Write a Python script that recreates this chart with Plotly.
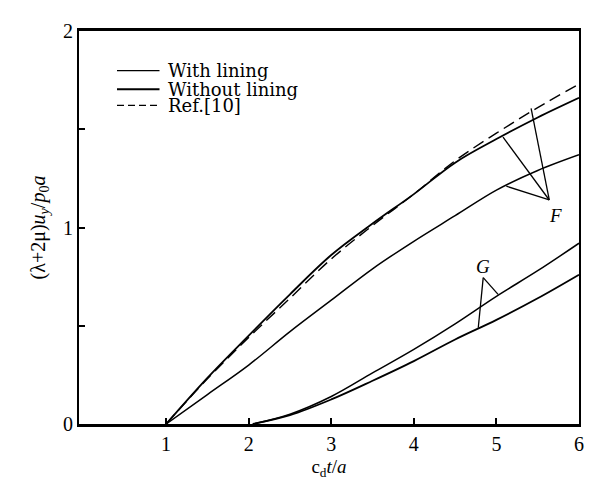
import plotly.graph_objects as go

# ---- data ----
x_f = [1.0, 1.5, 2.0, 2.5, 3.0, 3.5, 4.0, 4.5, 5.0, 5.5, 6.0]
ref10_f = [0.0, 0.23, 0.44, 0.64, 0.84, 1.01, 1.17, 1.34, 1.48, 1.61, 1.73]
without_f = [0.0, 0.235, 0.45, 0.66, 0.86, 1.02, 1.17, 1.33, 1.45, 1.56, 1.66]
with_f = [0.0, 0.15, 0.30, 0.47, 0.63, 0.79, 0.93, 1.06, 1.19, 1.29, 1.37]

x_g = [2.05, 2.5, 3.0, 3.5, 4.0, 4.5, 5.0, 5.5, 6.0]
without_g = [0.0, 0.05, 0.14, 0.26, 0.38, 0.51, 0.65, 0.78, 0.92]
with_g = [0.0, 0.045, 0.125, 0.22, 0.32, 0.43, 0.53, 0.64, 0.76]

x_ticks = [1, 2, 3, 4, 5, 6]
y_ticks = [0, 0.5, 1, 1.5, 2]
y_ticktext = ["0", "", "1", "", "2"]

legend_labels = ["With lining", "Without lining", "Ref.[10]"]

# annotation leaders (label, apex, targets)
f_label = (5.72, 1.06)
f_apex = (5.64, 1.14)
f_targets = [(5.42, 1.606), (5.08, 1.46), (5.12, 1.21)]
g_label = (4.84, 0.80)
g_apex = (4.84, 0.745)
g_targets = [(5.02, 0.66), (4.78, 0.49)]

FONT = "Liberation Serif, Times New Roman, serif"
LEG_FONT = "DejaVu Serif, serif"

fig = go.Figure()

def add_curve(x, y, width, dash="solid"):
    fig.add_trace(go.Scatter(x=x, y=y, mode="lines",
                             line=dict(color="black", width=width, dash=dash, shape="spline", smoothing=1.0),
                             showlegend=False, hoverinfo="skip"))

add_curve(x_f, ref10_f, 1.4, "12px,6px")
add_curve(x_f, without_f, 1.8)
add_curve(x_f, with_f, 1.5)
add_curve(x_g, without_g, 1.5)
add_curve(x_g, with_g, 1.8)

# leader lines
for apex, targets in [(f_apex, f_targets), (g_apex, g_targets)]:
    for t in targets:
        fig.add_shape(type="line", x0=apex[0], y0=apex[1], x1=t[0], y1=t[1],
                      line=dict(color="black", width=1.3), xref="x", yref="y")

fig.add_annotation(x=f_label[0], y=f_label[1], text="<i>F</i>", showarrow=False,
                   font=dict(family=FONT, size=19, color="black"))
fig.add_annotation(x=g_label[0], y=g_label[1], text="<i>G</i>", showarrow=False,
                   font=dict(family=FONT, size=19, color="black"))

# manual legend
leg_y = [0.899, 0.852, 0.811]
leg_w = [1.3, 2.0, 1.3]
leg_dash = ["solid", "solid", "7px,4px"]
for lab, yy, w, d in zip(legend_labels, leg_y, leg_w, leg_dash):
    fig.add_shape(type="line", xref="paper", yref="paper", x0=0.076, x1=0.161, y0=yy, y1=yy,
                  line=dict(color="black", width=w, dash=d))
    fig.add_annotation(xref="paper", yref="paper", x=0.174, y=yy, text=lab, showarrow=False,
                       xanchor="left", yanchor="middle",
                       font=dict(family=LEG_FONT, size=18, color="black"))

# the page body adds an 8px margin, so the figure is 8px smaller and margins shifted
fig.update_layout(
    width=588, height=478,
    margin=dict(l=71, r=15, t=14, b=56),
    paper_bgcolor="white", plot_bgcolor="white",
    font=dict(family=FONT, size=20, color="black"),
    showlegend=False,
)
fig.update_xaxes(range=[-0.055, 6.0], tickvals=x_ticks, ticks="inside", ticklen=6, tickwidth=1.5,
                 tickcolor="black", showline=True, linecolor="black", linewidth=2.5, mirror=True,
                 showgrid=False, zeroline=False,
                 title=dict(text="c<sub>d</sub><i>t</i>/<i>a</i>", font=dict(size=19), standoff=6),
                 tickfont=dict(size=20))
fig.update_yaxes(range=[0, 2], tickvals=y_ticks, ticktext=y_ticktext, ticks="inside", ticklen=6,
                 tickwidth=1.5, tickcolor="black", showline=True, linecolor="black", linewidth=2,
                 mirror=True, showgrid=False, zeroline=False,
                 title=dict(text="(λ+2μ)<i>u<sub>y</sub></i>/<i>p</i><sub>0</sub><i>a</i>", font=dict(size=20), standoff=12),
                 tickfont=dict(size=20))

fig.write_html("out.html")
